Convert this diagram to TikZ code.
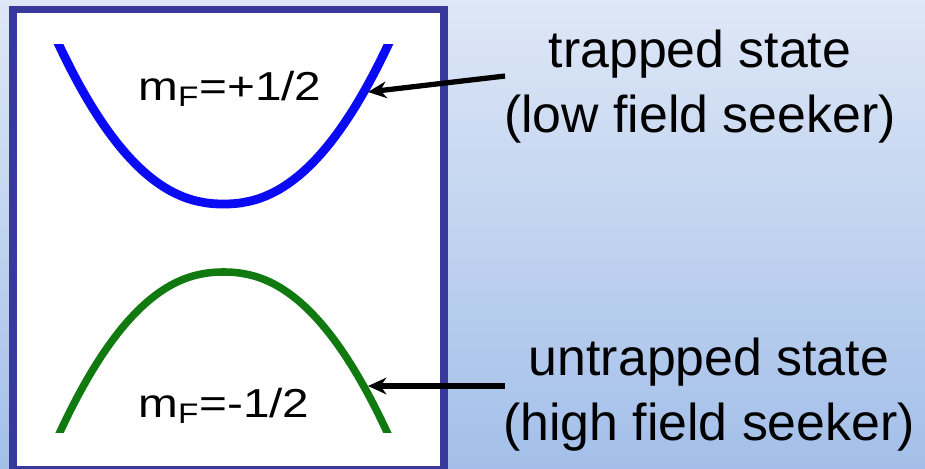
\documentclass[tikz,border=0pt]{standalone}
\usepackage{fontspec}
\setmainfont{Liberation Sans}
\usepackage{tikz}
\usetikzlibrary{arrows.meta, positioning}

\definecolor{bgtop}{RGB}{222,231,246}
\definecolor{bgbot}{RGB}{163,191,233}
\definecolor{framecol}{RGB}{56,58,155}
\definecolor{upcol}{RGB}{10,10,245}
\definecolor{downcol}{RGB}{16,122,16}

\begin{document}
\begin{tikzpicture}[
    x=0.02cm, y=-0.02cm,
    every node/.style={font=\fontsize{29.5}{36.8}\selectfont, inner sep=0pt},
    state/.style={align=center, anchor=base},
    level/.style={anchor=base west, font=\fontsize{23}{26}\selectfont},
    panel/.style={draw=framecol, fill=white, line width=4.5pt},
    curve/.style={line width=#1, line join=round},
    arrow/.style={-{Stealth[length=10.5pt, width=9.5pt]}, line width=3pt}
]
\useasboundingbox (0,0) rectangle (925,468);
\clip (0,0) rectangle (925,468);

% Background and panel
\shade[top color=bgtop, bottom color=bgbot] (0,0) rectangle (925,468);
\draw[panel] (13,9.5) rectangle (444,470);

% Energy levels
\begin{scope}
  \clip (17,44) rectangle (440,432);
  \draw[curve=5pt, upcol] plot[domain=50:397, samples=90, smooth]
    (\x, {204-160*((abs(\x-223.5)+0.001)/165)^2.2});
  \draw[curve=4.3pt, downcol] plot[domain=50:397, samples=90, smooth]
    (\x, {272+160*((abs(\x-223.5)+0.001)/163.5)^2.2});
\end{scope}

% Level labels
\node[level] (upLabel) at (138,100) {\scalebox{1.18}[1]{m\textsubscript{F}=+1/2}};
\node[level] (downLabel) at (138,417) {\scalebox{1.18}[1]{m\textsubscript{F}=-1/2}};

% State labels (anchored at the last line)
\node[state] (trapped) at (700,132) {trapped state\\(low field seeker)};
\node[state] (untrapped) at (709,440) {untrapped state\\(high field seeker)};

% Arrows
\coordinate (upTail) at (505,76);
\coordinate (upTip) at (368,92);
\coordinate (downTail) at (505,386);
\coordinate (downTip) at (368,386);
\draw[arrow] (upTail) -- (upTip);
\draw[arrow] (downTail) -- (downTip);

\end{tikzpicture}
\end{document}
